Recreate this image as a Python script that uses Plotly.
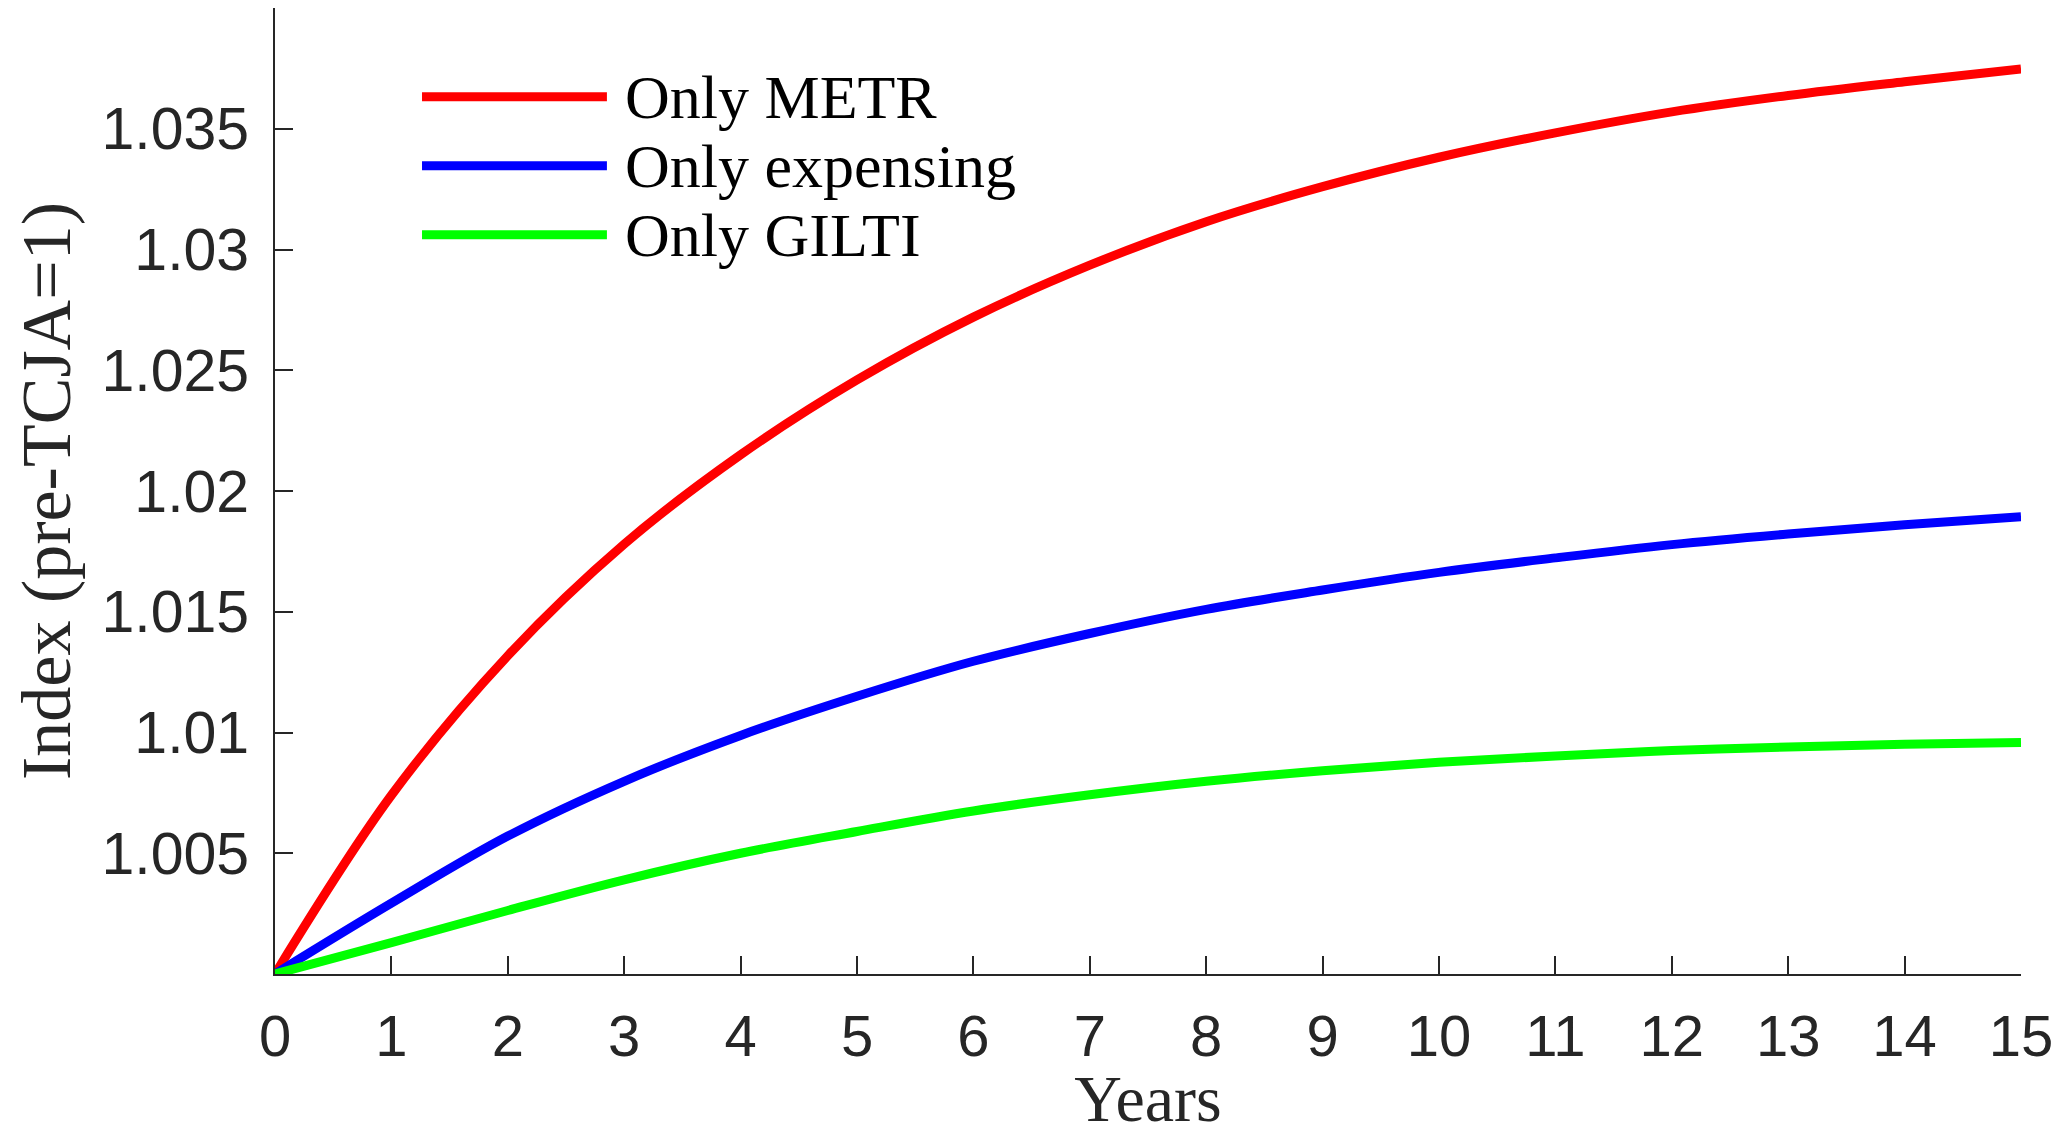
import plotly.graph_objects as go

years = list(range(16))
series_names = ["Only METR", "Only expensing", "Only GILTI"]
metr = [1.0, 1.0074, 1.01318, 1.0178, 1.0215, 1.0246, 1.0272, 1.02935, 1.03115,
        1.0326, 1.03382, 1.03483, 1.0357, 1.03638, 1.03695, 1.03748]
expensing = [1.0, 1.00293, 1.00571, 1.00798, 1.00988, 1.0115, 1.01295, 1.0141, 1.0151,
             1.0159, 1.01663, 1.01723, 1.01778, 1.01822, 1.0186, 1.01893]
gilti = [1.0, 1.0013, 1.00263, 1.0039, 1.0050, 1.0059, 1.00675, 1.00742, 1.00798,
         1.00842, 1.00877, 1.00903, 1.00925, 1.0094, 1.00951, 1.00959]
colors = ["#ff0000", "#0000ff", "#00ff00"]
y_tickvals = [1.005, 1.01, 1.015, 1.02, 1.025, 1.03, 1.035]
y_ticktext = ["1.005", "1.01", "1.015", "1.02", "1.025", "1.03", "1.035"]
x_tickvals = list(range(16))
x_ticktext = [str(v) for v in x_tickvals]

AXC = "#262626"
SANS = "Liberation Sans, Arial, sans-serif"
SERIF = "Liberation Serif, Times New Roman, serif"

fig = go.Figure()
for name, ys, c in zip(series_names, [metr, expensing, gilti], colors):
    fig.add_trace(go.Scatter(x=years, y=ys, mode="lines", name=name,
                             line=dict(color=c, width=9, shape="spline", smoothing=1.0),
                             showlegend=False))

# manual legend (long line samples as in the original)
leg_y = [0.908, 0.8366, 0.7653]
for name, c, ly in zip(series_names, colors, leg_y):
    fig.add_shape(type="line", xref="paper", yref="paper", x0=0.0842, x1=0.1901,
                  y0=ly, y1=ly, line=dict(color=c, width=9))
    fig.add_annotation(xref="paper", yref="paper", x=0.1995, y=ly, text=name,
                       showarrow=False, xanchor="left", yanchor="middle",
                       font=dict(family=SERIF, size=62, color="black"))

fig.update_layout(
    width=2062, height=1127,
    margin=dict(l=267, r=49, t=0, b=161),
    paper_bgcolor="white", plot_bgcolor="white",
    showlegend=False,
)
fig.update_xaxes(
    range=[0, 15], tickvals=x_tickvals, ticktext=x_ticktext,
    showline=True, linecolor=AXC, linewidth=2, mirror=False,
    ticks="inside", ticklen=18, tickwidth=2, tickcolor=AXC,
    showgrid=False, zeroline=False, automargin=False,
    tickfont=dict(family=SANS, size=58, color=AXC), ticklabelstandoff=10,
    title=dict(text="Years", font=dict(family=SERIF, size=66, color=AXC), standoff=13),
)
fig.update_yaxes(
    range=[1.0, 1.04], tickvals=y_tickvals, ticktext=y_ticktext,
    showline=True, linecolor=AXC, linewidth=2, mirror=False,
    ticks="inside", ticklen=18, tickwidth=2, tickcolor=AXC,
    showgrid=False, zeroline=False, automargin=False,
    tickfont=dict(family=SANS, size=59, color=AXC), ticklabelstandoff=12,
    title=dict(text="Index (pre-TCJA=1)", font=dict(family=SERIF, size=70, color=AXC), standoff=18),
)
fig.write_html("out.html")
